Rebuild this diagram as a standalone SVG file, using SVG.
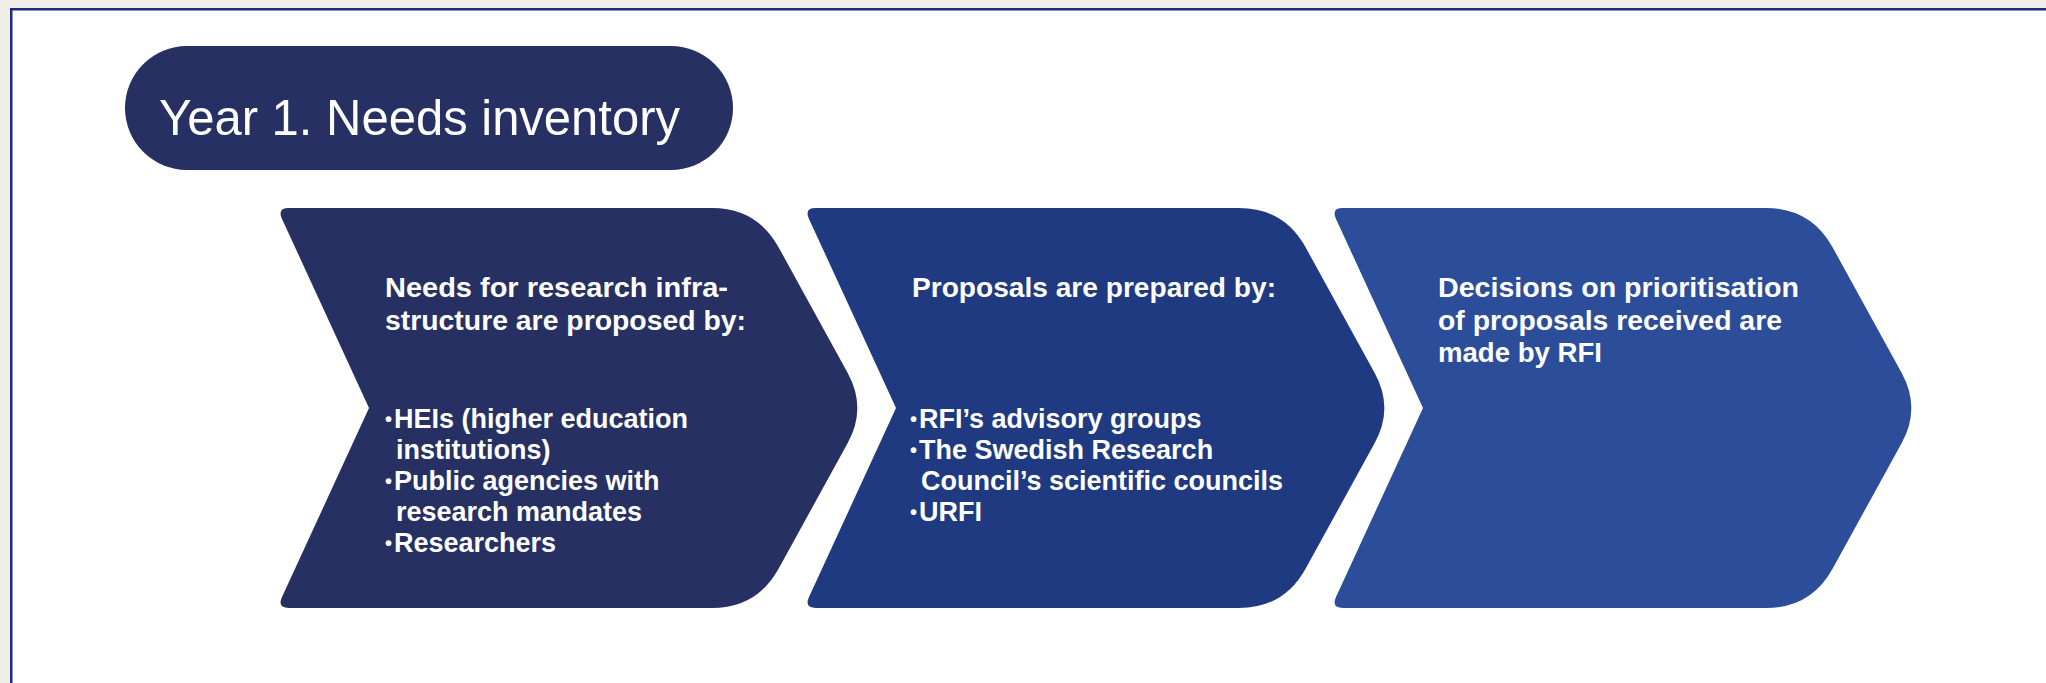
<svg xmlns="http://www.w3.org/2000/svg" width="2046" height="683" viewBox="0 0 2046 683">
<defs>
<style>
.bg{fill:#efeee9}
.frame{fill:#ffffff;stroke:#1c2b80;stroke-width:2.5}
.t{font-family:"Liberation Sans",Arial,sans-serif;fill:#ffffff}
.h{font-weight:bold;font-size:28px}
.b{font-weight:bold;font-size:27px}
.dot{font-size:20px}
</style>
<path id="chev" d="M12,0 L435,0 Q480,0 501.7,39.5 L570.7,164.9 Q590,200 570.7,235.1 L501.7,360.5 Q480,400 435,400 L12,400 Q0,400 5,389.1 L92,200 L5,10.9 Q0,0 12,0 Z"/>
</defs>
<rect class="bg" x="0" y="0" width="2046" height="683"/>
<rect class="frame" x="11.25" y="9.25" width="2100" height="720"/>

<g id="title">
<rect x="125" y="46" width="608" height="124" rx="62" ry="62" fill="#263062"/>
<text class="t" x="159" y="135" font-size="50" textLength="521" lengthAdjust="spacingAndGlyphs">Year 1. Needs inventory</text>
</g>

<g id="connectors"></g>

<g id="step1">
<use href="#chev" x="277" y="208" fill="#263062"/>
<text class="t h" x="385" y="297" textLength="343" lengthAdjust="spacingAndGlyphs">Needs for research infra-</text>
<text class="t h" x="385" y="330" textLength="361" lengthAdjust="spacingAndGlyphs">structure are proposed by:</text>
<text class="t b" x="385" y="428"><tspan class="dot" dy="-2">•</tspan><tspan dy="2" dx="2">HEIs (higher education</tspan></text>
<text class="t b" x="396" y="459">institutions)</text>
<text class="t b" x="385" y="490"><tspan class="dot" dy="-2">•</tspan><tspan dy="2" dx="2">Public agencies with</tspan></text>
<text class="t b" x="396" y="521">research mandates</text>
<text class="t b" x="385" y="552"><tspan class="dot" dy="-2">•</tspan><tspan dy="2" dx="2">Researchers</tspan></text>
</g>

<g id="step2">
<use href="#chev" x="804" y="208" fill="#1f3a80"/>
<text class="t h" x="912" y="297" textLength="364" lengthAdjust="spacingAndGlyphs">Proposals are prepared by:</text>
<text class="t b" x="910" y="428"><tspan class="dot" dy="-2">•</tspan><tspan dy="2" dx="2">RFI’s advisory groups</tspan></text>
<text class="t b" x="910" y="459"><tspan class="dot" dy="-2">•</tspan><tspan dy="2" dx="2">The Swedish Research</tspan></text>
<text class="t b" x="921" y="490">Council’s scientific councils</text>
<text class="t b" x="910" y="521"><tspan class="dot" dy="-2">•</tspan><tspan dy="2" dx="2">URFI</tspan></text>
</g>

<g id="step3">
<use href="#chev" x="1331" y="208" fill="#2c4d99"/>
<text class="t h" x="1438" y="297" textLength="361" lengthAdjust="spacingAndGlyphs">Decisions on prioritisation</text>
<text class="t h" x="1438" y="330" textLength="344" lengthAdjust="spacingAndGlyphs">of proposals received are</text>
<text class="t h" x="1438" y="362" textLength="164" lengthAdjust="spacingAndGlyphs">made by RFI</text>
</g>
</svg>
